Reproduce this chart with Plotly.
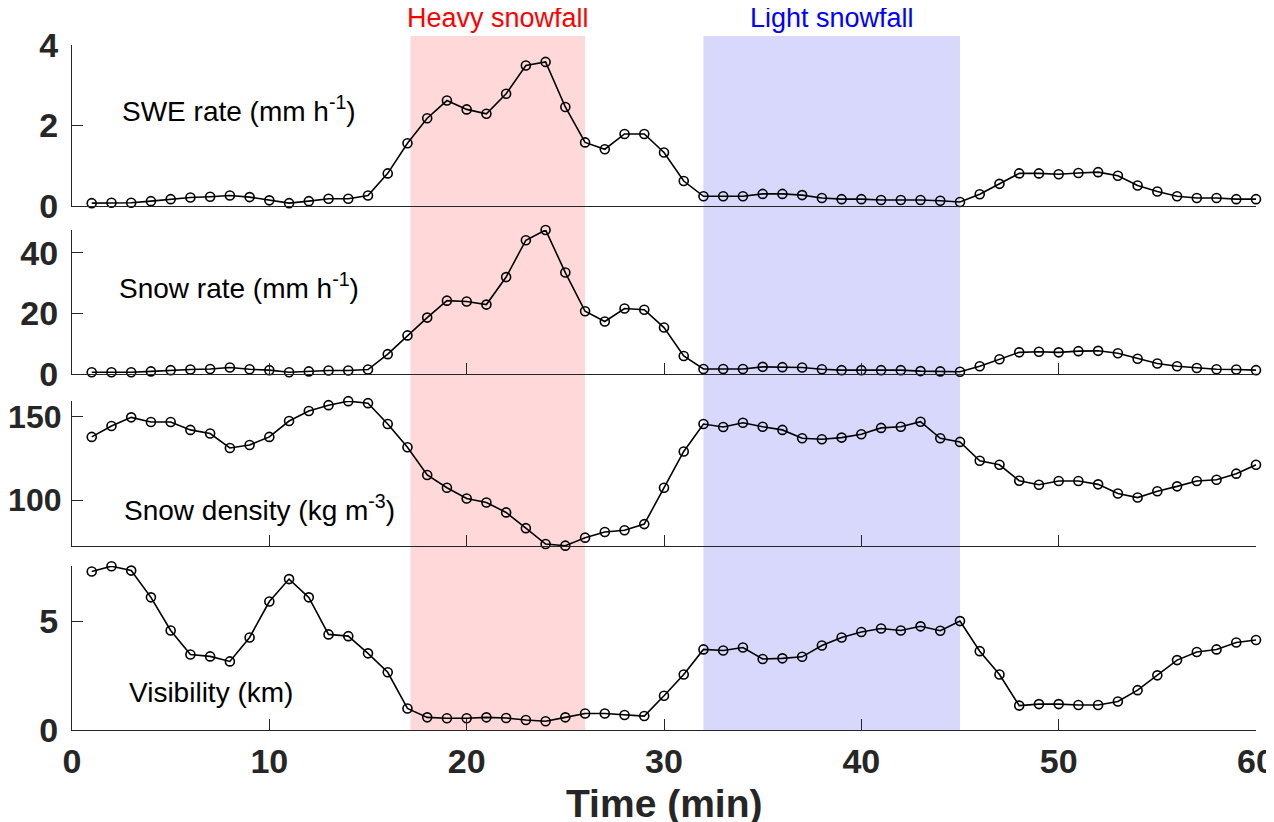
import plotly.graph_objects as go

# minutes since start
time = list(range(1, 61))

swe_rate = [0.07, 0.08, 0.08, 0.12, 0.17, 0.21, 0.23, 0.26, 0.22, 0.14,
            0.07, 0.12, 0.18, 0.18, 0.26, 0.81, 1.56, 2.18, 2.62, 2.40,
            2.29, 2.79, 3.49, 3.58, 2.46, 1.58, 1.41, 1.79, 1.79, 1.33,
            0.62, 0.24, 0.24, 0.24, 0.30, 0.30, 0.27, 0.20, 0.17, 0.17,
            0.15, 0.15, 0.15, 0.13, 0.10, 0.29, 0.55, 0.81, 0.81, 0.79,
            0.82, 0.84, 0.75, 0.51, 0.36, 0.24, 0.20, 0.20, 0.17, 0.17]

snow_rate = [0.5, 0.5, 0.5, 0.8, 1.2, 1.4, 1.6, 2.1, 1.5, 1.2,
             0.5, 0.8, 1.1, 1.1, 1.4, 6.5, 12.7, 18.6, 24.2, 23.9,
             22.9, 32.0, 44.2, 47.6, 33.5, 20.7, 17.3, 21.6, 21.2, 15.3,
             5.9, 1.6, 1.6, 1.6, 2.3, 2.2, 2.1, 1.5, 1.2, 1.2,
             1.2, 1.2, 0.9, 0.8, 0.7, 2.5, 4.8, 7.1, 7.3, 7.1,
             7.5, 7.6, 6.8, 5.0, 3.4, 2.5, 1.9, 1.5, 1.4, 1.2]

snow_density = [137.9, 144.4, 149.6, 146.8, 146.8, 142.1, 139.9, 131.3, 133.1, 137.9,
                147.4, 153.4, 156.9, 159.3, 158.1, 145.6, 131.7, 115.1, 107.5, 101.0,
                98.6, 92.7, 83.3, 73.8, 72.8, 77.6, 81.0, 82.0, 85.7, 107.5,
                129.2, 145.6, 143.8, 146.4, 144.0, 142.1, 137.1, 136.5, 137.5, 139.5,
                143.3, 144.0, 147.0, 137.1, 134.9, 123.6, 121.2, 111.7, 109.3, 111.5,
                111.5, 109.5, 104.0, 101.6, 105.4, 108.3, 111.5, 112.3, 115.9, 121.2]

visibility = [7.28, 7.52, 7.32, 6.09, 4.57, 3.47, 3.38, 3.15, 4.25, 5.90,
              6.93, 6.09, 4.39, 4.31, 3.52, 2.65, 0.99, 0.58, 0.54, 0.54,
              0.58, 0.55, 0.46, 0.40, 0.58, 0.76, 0.76, 0.69, 0.64, 1.57,
              2.55, 3.70, 3.65, 3.79, 3.26, 3.29, 3.36, 3.88, 4.25, 4.50,
              4.66, 4.57, 4.76, 4.56, 5.00, 3.62, 2.55, 1.12, 1.19, 1.19,
              1.15, 1.15, 1.31, 1.83, 2.51, 3.21, 3.58, 3.70, 4.02, 4.13]

heavy_period = [17.15, 26]
light_period = [32, 45]

panel_labels = ["SWE rate (mm h<sup>-1</sup>)", "Snow rate (mm h<sup>-1</sup>)",
                "Snow density (kg m<sup>-3</sup>)", "Visibility (km)"]
y_ranges = [[0, 4], [0, 47.6], [72.6, 159.4], [0, 7.53]]
y_ticks = [[0, 2, 4], [0, 20, 40], [100, 150], [0, 5]]
x_ticks = [10, 20, 30, 40, 50, 60]

series = [swe_rate, snow_rate, snow_density, visibility]
domains = [[0.765, 1.0], [0.52, 0.73], [0.2686, 0.4803], [0, 0.2394]]
label_pos = [(2.45, 2.41), (2.3, 29.2), (2.55, 95.2), (2.8, 1.74)]

AXC = "#262626"
FONT = "Liberation Sans, Arial"


def tick_font(size):
    return dict(family=FONT, size=size, color=AXC, weight="bold")


fig = go.Figure()

for i, ys in enumerate(series):
    n = "" if i == 0 else str(i + 1)
    fig.add_trace(go.Scatter(
        x=time, y=ys, mode="lines+markers",
        xaxis="x" + n, yaxis="y" + n,
        line=dict(color="black", width=1.6),
        marker=dict(symbol="circle-open", size=9, color="black", line=dict(width=1.6)),
        showlegend=False, cliponaxis=False,
    ))

# page body adds an 8px offset, margins compensate for it
layout = dict(
    width=1274, height=822,
    margin=dict(l=64, r=26, t=37, b=100),
    paper_bgcolor="white", plot_bgcolor="rgba(0,0,0,0)",
    showlegend=False,
)

for i in range(4):
    n = "" if i == 0 else str(i + 1)
    bottom = i == 3
    wide = i == 2  # three-digit labels need to stay inside the page
    layout["xaxis" + n] = dict(
        domain=[0, 1], range=[0, 60], anchor="y" + n, automargin=False,
        showline=True, linecolor=AXC, linewidth=1.2,
        showgrid=False, zeroline=False,
        tickmode="array", tickvals=[0] + x_ticks if bottom else x_ticks,
        ticks="" if i == 0 else "inside", ticklen=11, tickcolor=AXC, tickwidth=1,
        showticklabels=bottom, tickfont=tick_font(34), ticklabelstandoff=1,
    )
    if i > 0:
        layout["xaxis" + n]["matches"] = "x"
    layout["yaxis" + n] = dict(
        domain=domains[i], range=y_ranges[i], anchor="x" + n, automargin=False,
        showline=True, linecolor=AXC, linewidth=1.2,
        showgrid=False, zeroline=False,
        tickmode="array", tickvals=y_ticks[i],
        ticks="inside", ticklen=11, tickcolor=AXC, tickwidth=1,
        tickfont=tick_font(32 if wide else 34), ticklabelstandoff=3 if wide else 6,
    )

fig.update_layout(**layout)

# snowfall periods shaded over all panels
for (x0, x1), col in [(heavy_period, "rgb(255,216,218)"), (light_period, "rgb(216,216,253)")]:
    fig.add_shape(type="rect", xref="x", yref="paper", x0=x0, x1=x1, y0=0, y1=1.013,
                  fillcolor=col, line=dict(width=0), layer="below")

fig.add_annotation(x=sum(heavy_period) / 2, y=1.0394, xref="x", yref="paper",
                   text="Heavy snowfall", showarrow=False, yanchor="middle",
                   font=dict(family=FONT, size=27, color="#ff0000"))
fig.add_annotation(x=sum(light_period) / 2, y=1.0394, xref="x", yref="paper",
                   text="Light snowfall", showarrow=False, yanchor="middle",
                   font=dict(family=FONT, size=27, color="#0000ff"))

for i, (lx, ly) in enumerate(label_pos):
    n = "" if i == 0 else str(i + 1)
    fig.add_annotation(x=lx, y=ly, xref="x" + n, yref="y" + n, text=panel_labels[i],
                       showarrow=False, xanchor="left", yanchor="middle",
                       font=dict(family=FONT, size=28, color="black"))

fig.add_annotation(x=0.5, y=-0.108, xref="paper", yref="paper", text="Time (min)",
                   showarrow=False, yanchor="middle",
                   font=dict(family=FONT, size=39, color=AXC, weight="bold"))

fig.write_html("out.html")
